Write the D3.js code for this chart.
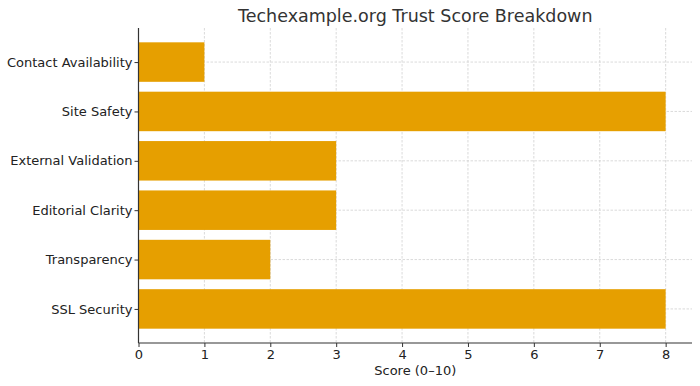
<!DOCTYPE html>
<html>
<head>
<meta charset="utf-8">
<script src="https://cdn.jsdelivr.net/npm/d3@7"></script>
<style>
  body { margin: 0; background: #fff; }
  svg { font-family: "DejaVu Sans", sans-serif; }
</style>
</head>
<body>
<svg id="chart" width="700" height="386"></svg>
<script>
// data, bottom to top as drawn
const categories = ['SSL Security', 'Transparency', 'Editorial Clarity', 'External Validation', 'Site Safety', 'Contact Availability'];
const scores = [8, 2, 3, 3, 8, 1];
const xTicks = [0, 1, 2, 3, 4, 5, 6, 7, 8];

const margin = { top: 28, right: 8, bottom: 43, left: 138.5 };
const width = 700 - margin.left - margin.right;
const height = 386 - margin.top - margin.bottom;

const root = d3.select('#chart');
const svg = root.append('g').attr('transform', `translate(${margin.left},${margin.top})`);

const x = d3.scaleLinear().domain([0, 8.4]).range([0, width]);
// matplotlib-style linear y: bar i centred at i, limits with 5% margin
const n = categories.length;
const pad = 0.05 * (n - 1 + 0.8);
const y = d3.scaleLinear().domain([-0.4 - pad, n - 1 + 0.4 + pad]).range([height, 0]);
const barH = y(0) - y(0.8);

// grid
const grid = svg.append('g').attr('stroke', '#d0d0d0').attr('stroke-width', 0.8).attr('stroke-dasharray', '2.5,1.5');
grid.selectAll('line.v').data(xTicks).join('line')
  .attr('x1', d => x(d)).attr('x2', d => x(d)).attr('y1', 0).attr('y2', height);
grid.selectAll('line.h').data(d3.range(n)).join('line')
  .attr('x1', 0).attr('x2', width).attr('y1', d => y(d)).attr('y2', d => y(d));

// bars
svg.append('g').selectAll('rect')
  .data(scores)
  .join('rect')
  .attr('x', x(0))
  .attr('y', (d, i) => y(i + 0.4))
  .attr('width', d => x(d) - x(0))
  .attr('height', barH)
  .attr('fill', '#e69f00');

// axes
const xAxis = svg.append('g')
  .attr('transform', `translate(0,${height})`)
  .call(d3.axisBottom(x).tickValues(xTicks).tickFormat(d3.format('d')).tickSize(4).tickPadding(3));
const yAxis = svg.append('g')
  .call(d3.axisLeft(y).tickValues(d3.range(n)).tickFormat(i => categories[i]).tickSize(4).tickPadding(2));

[xAxis, yAxis].forEach(a => {
  a.select('.domain').attr('stroke', '#333').attr('stroke-width', 1.2);
  a.selectAll('.tick line').attr('stroke', '#333');
  a.selectAll('.tick text').attr('fill', '#222').attr('font-size', '13px').attr('font-family', '"DejaVu Sans", sans-serif');
});
xAxis.select('.domain').attr('d', `M0,0H${width}`);
yAxis.select('.domain').attr('d', `M0,0V${height}`);

// labels
svg.append('text')
  .attr('x', width / 2).attr('y', height + 32)
  .attr('text-anchor', 'middle').attr('font-size', '13px').attr('fill', '#222')
  .text('Score (0–10)');

svg.append('text')
  .attr('x', width / 2).attr('y', -6)
  .attr('text-anchor', 'middle').attr('font-size', '17.5px').attr('fill', '#333')
  .text('Techexample.org Trust Score Breakdown');
</script>
</body>
</html>
